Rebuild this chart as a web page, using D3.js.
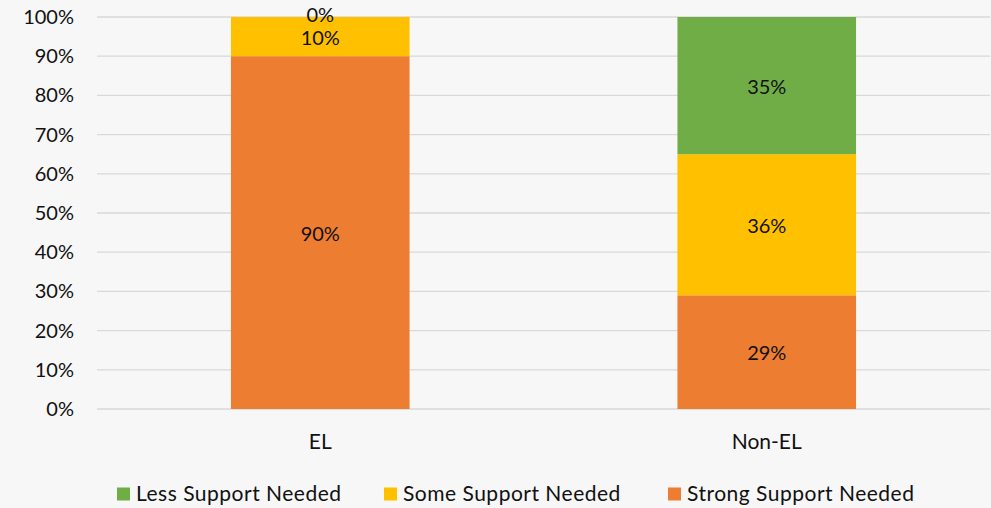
<!DOCTYPE html>
<html>
<head>
<meta charset="utf-8">
<script src="https://cdn.jsdelivr.net/npm/d3@7"></script>
<style>
  html, body { margin: 0; padding: 0; background: #f7f7f7; }
  svg { display: block; font-family: Lato, "Open Sans", sans-serif; }
</style>
</head>
<body>
<svg id="chart" width="991" height="508"></svg>
<script>
// Student support levels by group (percent of students)
const categories = ["EL", "Non-EL"];
const seriesNames = ["Strong Support Needed", "Some Support Needed", "Less Support Needed"];
const strongSupport = [90, 29];
const someSupport = [10, 36];
const lessSupport = [0, 35];
const yTicks = [0, 10, 20, 30, 40, 50, 60, 70, 80, 90, 100];
const legendOrder = ["Less Support Needed", "Some Support Needed", "Strong Support Needed"];

const colors = {
  "Strong Support Needed": "#ed7d31",
  "Some Support Needed": "#ffc000",
  "Less Support Needed": "#70ad47"
};

const FONT = "Lato, 'Open Sans', sans-serif";
const FS = 20;
const TEXT = "#111";

const svg = d3.select("#chart");
const W = 991, H = 508;
svg.append("rect").attr("width", W).attr("height", H).attr("fill", "#f7f7f7");

const margin = { left: 97, right: 1, top: 17, bottom: 99 };
const plotW = W - margin.left - margin.right;
const plotH = H - margin.top - margin.bottom;

const g = svg.append("g").attr("transform", `translate(${margin.left},${margin.top})`);

const x = d3.scaleBand().domain(categories).range([0, plotW]).paddingInner(0.6).paddingOuter(0.3);
const y = d3.scaleLinear().domain([0, 100]).range([plotH, 0]);

// gridlines
g.selectAll("line.grid").data(yTicks).join("line")
  .attr("class", "grid")
  .attr("x1", 0).attr("x2", plotW)
  .attr("y1", d => y(d)).attr("y2", d => y(d))
  .attr("stroke", "#d9d9d9").attr("stroke-width", 1.3);

// y axis labels
const yAxis = d3.axisLeft(y).tickValues(yTicks).tickFormat(d => d + "%").tickSize(0).tickPadding(23);
const ya = g.append("g").call(yAxis);
ya.select(".domain").remove();
ya.selectAll("text").attr("font-size", FS).attr("fill", TEXT).attr("font-family", FONT);

// x axis labels
const xAxis = d3.axisBottom(x).tickSize(0).tickPadding(25);
const xa = g.append("g").attr("transform", `translate(0,${plotH})`).call(xAxis);
xa.select(".domain").remove();
xa.selectAll("text").attr("font-size", 21).attr("fill", TEXT).attr("font-family", FONT);

// stacked data
const rows = categories.map((c, i) => ({
  category: c,
  "Strong Support Needed": strongSupport[i],
  "Some Support Needed": someSupport[i],
  "Less Support Needed": lessSupport[i]
}));
const stacked = d3.stack().keys(seriesNames)(rows);

const layers = g.selectAll("g.layer").data(stacked).join("g")
  .attr("class", "layer")
  .attr("fill", d => colors[d.key]);

layers.selectAll("rect").data(d => d).join("rect")
  .attr("x", d => x(d.data.category))
  .attr("width", x.bandwidth())
  .attr("y", d => y(d[1]))
  .attr("height", d => y(d[0]) - y(d[1]));

// value labels centered in each segment
stacked.forEach(layer => {
  g.selectAll(null).data(layer).join("text")
    .attr("x", d => x(d.data.category) + x.bandwidth() / 2)
    .attr("y", d => y((d[0] + d[1]) / 2) + ((d[1] - d[0]) === 0 ? -2 : 1))
    .attr("dy", "0.35em")
    .attr("text-anchor", "middle")
    .attr("font-size", FS)
    .attr("font-family", FONT)
    .attr("fill", TEXT)
    .text(d => (d[1] - d[0]) + "%");
});

// legend
const legendX = [117, 384, 668];
const legend = svg.append("g");
legendOrder.forEach((name, i) => {
  const lg = legend.append("g").attr("transform", `translate(${legendX[i]},494)`);
  lg.append("rect").attr("x", 0).attr("y", -6.5).attr("width", 13).attr("height", 13).attr("fill", colors[name]);
  lg.append("text").attr("x", 19).attr("y", 0).attr("dy", "0.35em")
    .attr("font-size", 21).attr("letter-spacing", 0.5)
    .attr("font-family", FONT).attr("fill", TEXT).text(name);
});
</script>
</body>
</html>
